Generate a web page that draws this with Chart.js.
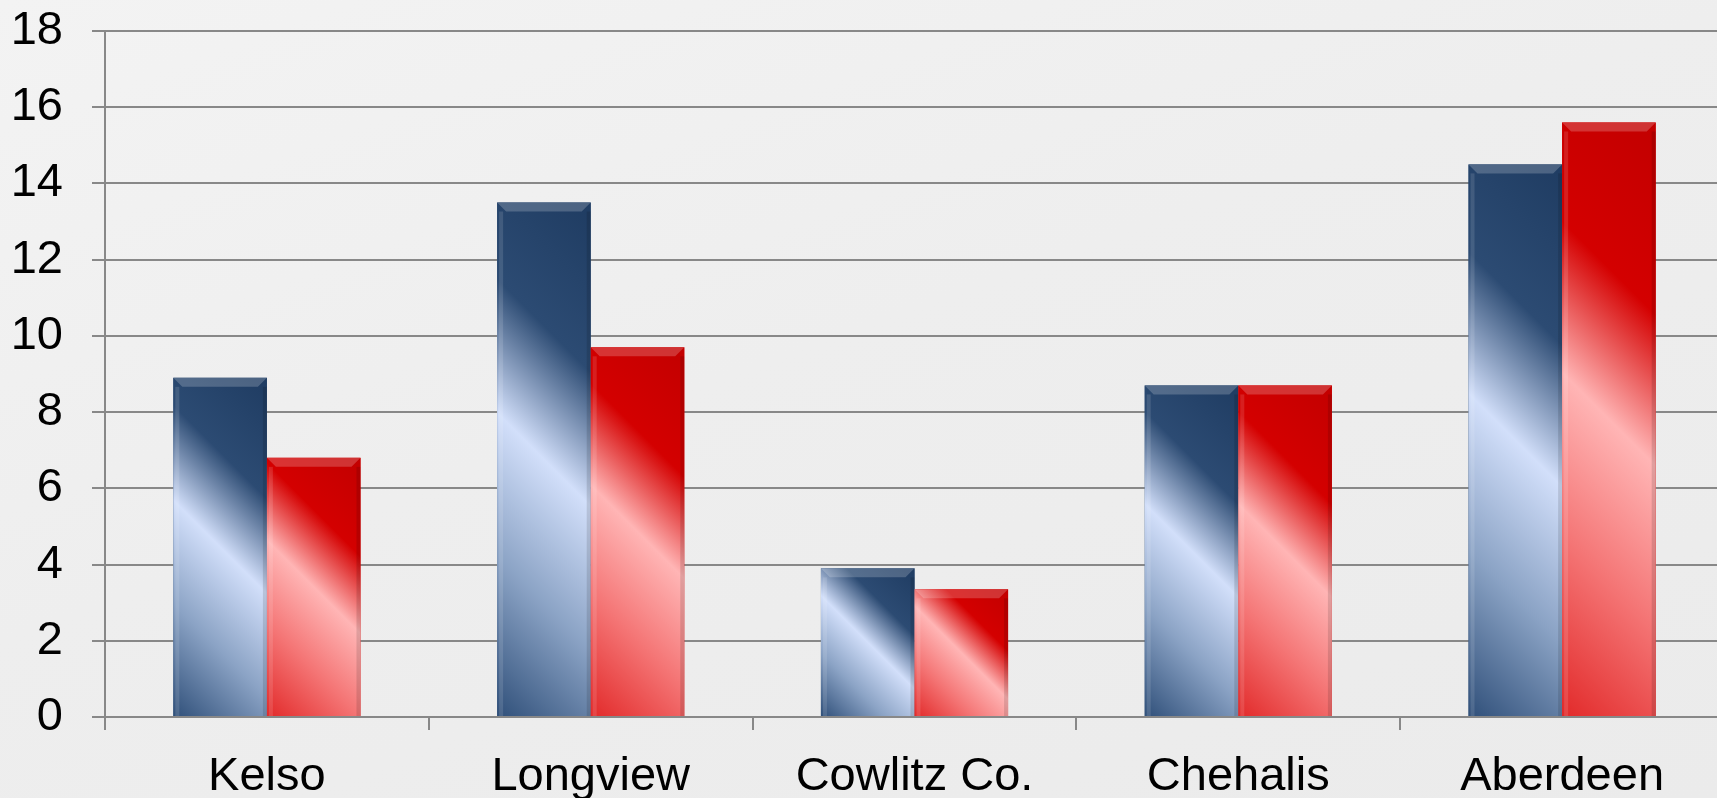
<!DOCTYPE html>
<html>
<head>
<meta charset="utf-8">
<script src="https://cdn.jsdelivr.net/npm/chart.js@4/dist/chart.umd.min.js"></script>
<style>
  html, body { margin: 0; padding: 0; overflow: hidden; }
  body { width: 1717px; height: 798px; background: linear-gradient(160deg, #f3f3f3 0%, #eeeeee 45%, #ebebeb 100%); }
  canvas { display: block; }
</style>
</head>
<body>
<canvas id="chart" width="1724" height="798"></canvas>
<script>
// data
const categories = ['Kelso', 'Longview', 'Cowlitz Co.', 'Chehalis', 'Aberdeen'];
const seriesBlue = [8.9, 13.5, 3.9, 8.7, 14.5];
const seriesRed  = [6.8, 9.7, 3.35, 8.7, 15.6];
const yTicks = [0, 2, 4, 6, 8, 10, 12, 14, 16, 18];

const FONT = 'Arial, "Liberation Sans", sans-serif';

// diagonal shine, dark at top-right, light band in the middle
const shineStops = [
    [[0, '#1f3c62'], [0.28, '#2c4b73'], [0.5, '#d2dffa'], [0.74, '#8ba3c5'], [1, '#30507a']],
    [[0, '#c20000'], [0.28, '#d40000'], [0.5, '#ffb5b5'], [0.74, '#f47474'], [1, '#e22a2a']],
];

const barShine = {
    id: 'barShine',
    afterDatasetsDraw(chart) {
        const c = chart.ctx;
        chart.data.datasets.forEach((ds, i) => {
            chart.getDatasetMeta(i).data.forEach(bar => {
                const { x, y, base, width } = bar.getProps(['x', 'y', 'base', 'width'], true);
                const l = x - width / 2, r = x + width / 2, h = base - y;
                const k = (width + h) / 2;
                const g = c.createLinearGradient(r, y, r - k, y + k);
                shineStops[i].forEach(([p, col]) => g.addColorStop(p, col));
                c.save();
                c.fillStyle = g;
                c.fillRect(l, y, width, h);
                // bevel on top and sides
                const b = Math.min(9, h / 2);
                c.beginPath();
                c.moveTo(l, y); c.lineTo(r, y); c.lineTo(r - b, y + b); c.lineTo(l + b, y + b);
                c.closePath();
                c.fillStyle = 'rgba(255,255,255,0.2)';
                c.fill();
                c.fillStyle = 'rgba(0,0,0,0.12)';
                c.fillRect(r - 4, y + b, 4, h - b);
                c.fillStyle = 'rgba(255,255,255,0.12)';
                c.fillRect(l + 2, y + b, 4, h - b);
                c.restore();
            });
        });
    }
};

new Chart(document.getElementById('chart'), {
    type: 'bar',
    data: {
        labels: categories,
        datasets: [
            { label: 'A', data: seriesBlue, backgroundColor: '#2c4b73', borderWidth: 0 },
            { label: 'B', data: seriesRed,  backgroundColor: '#d40000', borderWidth: 0 },
        ],
    },
    options: {
        responsive: false,
        animation: false,
        categoryPercentage: 0.578,
        barPercentage: 1,
        layout: { padding: { top: 31, left: 0, right: 0, bottom: 0 } },
        plugins: {
            legend: { display: false },
            tooltip: { enabled: false },
        },
        scales: {
            x: {
                grid: { drawOnChartArea: false, drawTicks: true, tickLength: 13, color: '#888', lineWidth: 2, offset: true },
                border: { color: '#888', width: 2 },
                ticks: { color: '#000', font: { family: FONT, size: 47 }, padding: 19, maxRotation: 0, autoSkip: false },
                afterFit: s => { s.height = 81; s.paddingLeft = 0; s.paddingRight = 0; },
            },
            y: {
                min: 0,
                max: 18,
                afterBuildTicks: s => { s.ticks = yTicks.map(v => ({ value: v })); },
                grid: { color: '#888', lineWidth: 2, tickLength: 13 },
                border: { color: '#888', width: 2 },
                ticks: { color: '#000', font: { family: FONT, size: 47 }, padding: 29 },
                afterFit: s => { s.width = 105; s.paddingTop = 0; s.paddingBottom = 0; },
            },
        },
    },
    plugins: [barShine],
});
</script>
</body>
</html>
